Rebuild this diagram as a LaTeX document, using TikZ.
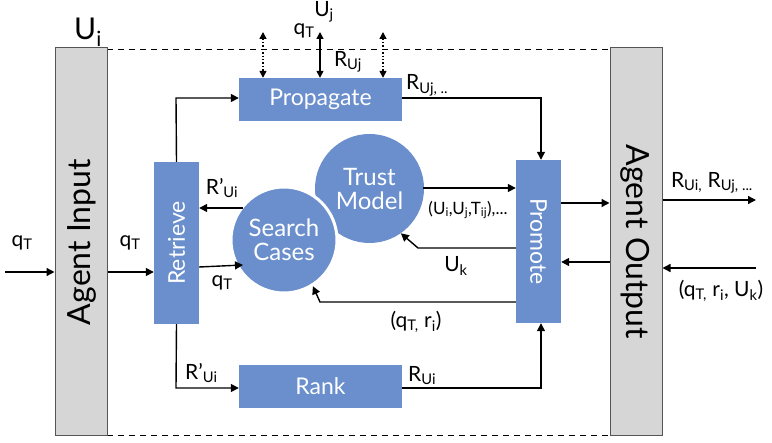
\documentclass[tikz,border=0pt]{standalone}
\usepackage{fontspec}
\setmainfont{Lato}
\usetikzlibrary{arrows.meta}
\definecolor{blu}{HTML}{6A8FCC}
\definecolor{gbox}{HTML}{D6D6D6}
\definecolor{gline}{HTML}{555555}
\tikzset{
  agentbox/.style={draw=gline, line width=1pt, fill=gbox, minimum width=52pt, minimum height=388pt, inner sep=0pt},
  bluebox/.style={fill=blu, text=white, inner sep=0pt, font=\fontsize{23}{23}\selectfont},
  bluetext/.style={text=white, inner sep=0pt, font=\fontsize{23}{23}\selectfont},
  bluecirc/.style={circle, fill=blu, text=white, inner sep=0pt, align=center, font=\fontsize{24}{27}\selectfont},
  arr/.style={line width=1.4pt, -{Triangle[length=8pt,width=8pt]}},
  darr/.style={line width=1.4pt, {Triangle[length=7pt,width=7pt]}-{Triangle[length=7pt,width=7pt]}},
  lbl/.style={font=\fontsize{21}{21}\selectfont, inner sep=0pt},
  slbl/.style={font=\fontsize{17}{17}\selectfont, inner sep=0pt},
}
\begin{document}
\begin{tikzpicture}[x=1pt,y=-1pt]
\useasboundingbox (0,0) rectangle (772,443);
% dashed frame
\coordinate (dtl) at (107,49);
\coordinate (dtr) at (610,49);
\coordinate (dbl) at (107,435);
\coordinate (dbr) at (610,435);
\draw[line width=0.8pt, dash pattern=on 6pt off 5pt] (dtl) -- (dtr);
\draw[line width=0.8pt, dash pattern=on 6pt off 5pt] (dbl) -- (dbr);
% agent boxes
\node[agentbox] (ain) at (81,242) {};
\node[rotate=90, font=\fontsize{32}{32}\selectfont] (aint) at (82,242) {Agent Input};
\node[agentbox] (aout) at (636,242) {};
\node[rotate=-90, font=\fontsize{32}{32}\selectfont] (aoutt) at (635,242) {Agent Output};
\node[font=\fontsize{30}{30}\selectfont, inner sep=0pt] (ui) at (88,32) {U\textsubscript{i}};
% blue boxes
\node[bluebox, minimum width=163pt, minimum height=43pt] (prop) at (320.5,99.5) {Propagate};
\node[bluebox, minimum width=163pt, minimum height=43pt] (rank) at (320.5,386.5) {Rank};
\node[fill=blu, minimum width=45pt, minimum height=162pt, inner sep=0pt] (retr) at (176.5,243) {};
\node[bluetext, rotate=90] (retrt) at (retr) {Retrieve};
\node[fill=blu, minimum width=45pt, minimum height=163pt, inner sep=0pt] (prom) at (538.5,241.5) {};
\node[bluetext, rotate=-90] (promt) at (prom) {Promote};
% circles
\node[bluecirc, minimum size=109pt] (trust) at (369.5,188.5) {Trust\\[-3pt]Model};
\node[bluecirc, minimum size=106pt, draw=white, line width=3pt] (search) at (284,240) {Search\\[-3pt]Cases};
% input arrows
\coordinate (qin) at (5,272);
\draw[arr] (qin) -- (ain.west |- qin);
\node[lbl] at (22,243) {q\textsubscript{T}};
\draw[arr] (ain.east |- qin) -- (retr.west |- qin);
\node[lbl] at (130,243) {q\textsubscript{T}};
% retrieve to propagate / rank
\draw[arr] (retr.north) -- (176,98) -- (prop.west |- 0,98);
\draw[arr] (retr.south) -- (176,388) -- (rank.west |- 0,388);
\node[lbl, anchor=south west] at (185,383) {R’\textsubscript{Ui}};
% propagate / rank to promote
\draw[arr] (prop.east |- 0,98) -- (541,98) -- (prom.north -| 541,0);
\node[lbl, anchor=south west] at (406,96) {R\textsubscript{Uj, ..}};
\draw[arr] (rank.east |- 0,388) -- (541,388) -- (prom.south -| 541,0);
\node[lbl, anchor=south west] at (408,385) {R\textsubscript{Ui}};
% trust <-> promote
\coordinate (tp1) at (423,188);
\draw[arr] (tp1) -- (prom.west |- tp1);
\node[slbl] at (468,210) {(U\textsubscript{i},U\textsubscript{j},T\textsubscript{ij}),...};
\coordinate (uk) at (418,248);
\draw[arr] (prom.west |- uk) -- (uk) -- (trust.-55);
\node[lbl] at (456,266) {U\textsubscript{k}};
% search <-> retrieve
\coordinate (rs) at (243,208);
\draw[arr] (rs) -- (retr.east |- rs);
\node[lbl] at (222,188) {R’\textsubscript{Ui}};
\coordinate (sq) at (243,265);
\draw[arr] (retr.east |- 0,267) -- (sq);
\node[lbl] at (222,283) {q\textsubscript{T}};
% promote -> search
\coordinate (qr) at (320,302);
\draw[arr] (prom.west |- qr) -- (qr) -- (search.-58);
\node[lbl] at (416,322) {(q\textsubscript{T,} r\textsubscript{i})};
% promote <-> agent output
\draw[arr] (prom.east |- 0,203) -- (aout.west |- 0,203);
\draw[arr] (aout.west |- 0,262) -- (prom.east |- 0,262);
% agent output external
\coordinate (oout) at (756,200);
\draw[arr] (aout.east |- oout) -- (oout);
\node[lbl] at (712,183) {R\textsubscript{Ui,} R\textsubscript{Uj, ...}};
\coordinate (oin) at (756,268);
\draw[arr] (oin) -- (aout.east |- oin);
\node[lbl] at (721,291) {(q\textsubscript{T,} r\textsubscript{i}, U\textsubscript{k})};
% top arrows
\coordinate (a1t) at (263,32);
\coordinate (a2t) at (383,32);
\coordinate (a3t) at (320,32);
\draw[darr, dotted] (a1t) -- (prop.north -| a1t);
\draw[darr, dotted] (a2t) -- (prop.north -| a2t);
\draw[darr] (a3t) -- (prop.north -| a3t);
\node[lbl] at (304,31) {q\textsubscript{T}};
\node[lbl] at (324,12) {U\textsubscript{j}};
\node[lbl] at (348,62) {R\textsubscript{Uj}};
\end{tikzpicture}
\end{document}
